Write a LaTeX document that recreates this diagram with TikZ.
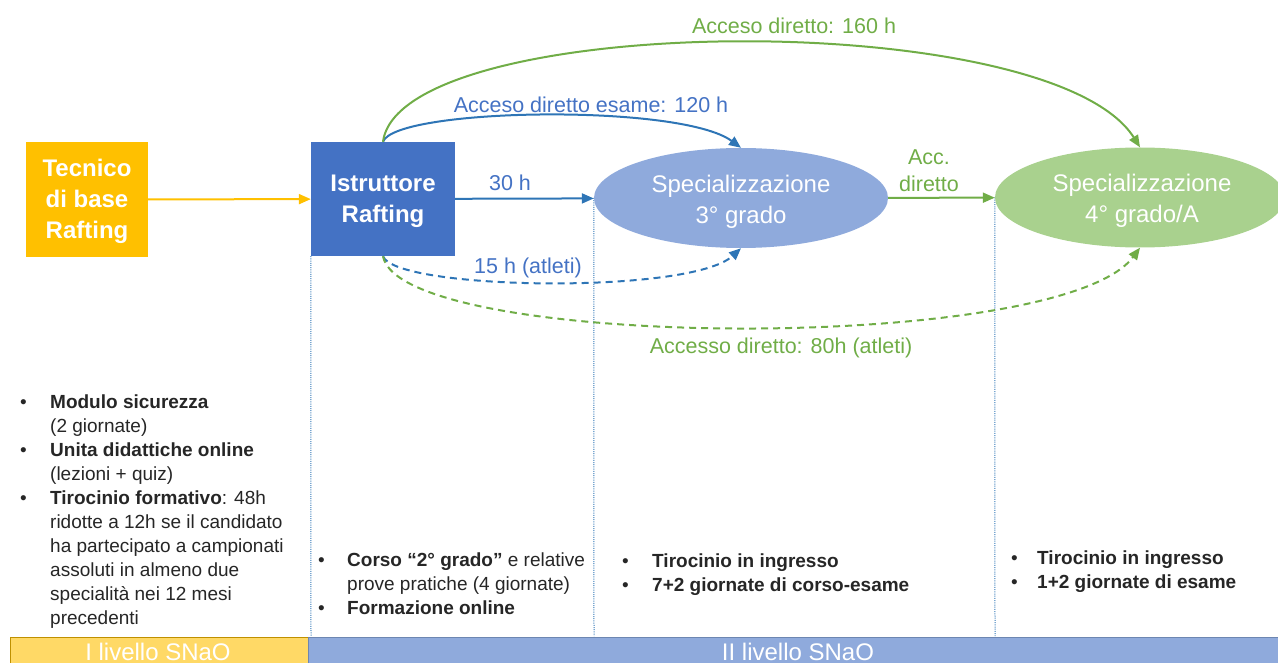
\documentclass[tikz,border=0pt]{standalone}
\usepackage{fontspec}
\setmainfont{Liberation Sans}
\usetikzlibrary{arrows.meta,shapes.geometric,backgrounds}
\definecolor{yelbox}{HTML}{FFC000}
\definecolor{bluebox}{HTML}{4472C4}
\definecolor{ellblue}{HTML}{8FAADC}
\definecolor{ellgreen}{HTML}{A9D18E}
\definecolor{arrblue}{HTML}{2E75B6}
\definecolor{arrgreen}{HTML}{70AD47}
\definecolor{lblblue}{HTML}{4472C4}
\definecolor{baryel}{HTML}{FFD966}
\definecolor{baryelborder}{HTML}{BF9000}
\definecolor{barblue}{HTML}{8FAADC}
\definecolor{barblueborder}{HTML}{2F528F}
\definecolor{txt}{HTML}{262626}
\tikzset{
  boxshape/.style={inner sep=0pt},
  boxtext/.style={inner sep=0pt, align=center, text=white,
    font=\fontsize{24}{31}\selectfont\bfseries},
  ellshape/.style={ellipse, inner sep=0pt, minimum width=294pt, minimum height=100pt},
  elltext/.style={inner sep=0pt, align=center, text=white,
    font=\fontsize{24}{31}\selectfont},
  conn/.style={line width=2pt, -{Triangle[length=12pt,width=10pt]}},
  dashconn/.style={conn, dash pattern=on 7pt off 5pt},
  arrlabel/.style={inner sep=0pt, align=center, font=\fontsize{21.5}{27}\selectfont},
  vdot/.style={draw=arrblue, line width=1pt, dash pattern=on 1pt off 1.2pt},
  bullets/.style={inner sep=0pt, anchor=base west, text=txt,
    font=\fontsize{19}{24.1}\selectfont},
  barlabel/.style={inner sep=0pt, anchor=base, text=white, font=\fontsize{24}{28}\selectfont},
}
\begin{document}
\begin{tikzpicture}[x=1pt,y=-1pt]
\useasboundingbox (0,0) rectangle (1278,663);
\clip (0,0) rectangle (1278,663);

% main nodes
\node[boxshape, fill=yelbox, minimum width=122pt, minimum height=115pt] (tec) at (87,199.5) {};
\node[boxtext] (tect) at ([yshift=-2pt]tec.center) {Tecnico\\di base\\Rafting};
\node[boxshape, fill=bluebox, minimum width=144pt, minimum height=114pt] (istr) at (383,199) {};
\node[boxtext] (istrt) at ([yshift=-2.5pt]istr.center) {Istruttore\\Rafting};
\node[ellshape, fill=ellblue] (s3) at (741,198) {};
\node[elltext] (s3t) at ([yshift=-4pt]s3.center) {Specializzazione\\3° grado};
\node[ellshape, fill=ellgreen, minimum width=290pt] (s4) at (1140,197.5) {};
\node[elltext] (s4t) at ([xshift=2pt,yshift=-3pt]s4.center) {Specializzazione\\4° grado/A};

% dotted separators
\coordinate (d1) at (311,636);
\coordinate (d2) at (594,636);
\coordinate (d3) at (995,636);
\begin{scope}[on background layer]
\draw[vdot] (istr.south west) -- (d1);
\draw[vdot] (s3.west) -- (d2);
\draw[vdot] (s4.west) -- (d3);
\end{scope}

% straight connectors
\draw[conn, yelbox] (tec) -- (istr);
\draw[conn, arrblue] (istr) -- (s3);
\draw[conn, arrgreen] (s3) -- (s4);

% curved connectors
\draw[conn, arrblue] (istr.north) .. controls (395,108) and (680,103) .. (s3.north);
\draw[conn, arrgreen] (istr.north) .. controls (400,12) and (1050,5) .. (s4.north);
\draw[dashconn, arrblue] (istr.south) .. controls (395,290) and (690,295) .. (s3.south);
\draw[dashconn, arrgreen] (istr.south) .. controls (400,350) and (1060,355) .. (s4.south);

% labels
\node[arrlabel, text=arrgreen] (l160) at (794,26) {Acceso diretto: 160 h};
\node[arrlabel, text=lblblue] (l120) at (591,105) {Acceso diretto esame: 120 h};
\node[arrlabel, text=lblblue] (l30) at (510,183) {30 h};
\node[arrlabel, text=arrgreen] (lacc) at (929,170.5) {Acc.\\diretto};
\node[arrlabel, text=lblblue] (l15) at (528,268) {15 h (atleti)};
\node[arrlabel, text=arrgreen] (l80) at (781,348) {Accesso diretto: 80h (atleti)};

% bullet columns
\node[bullets] (col1) at (20,408) {\begin{tabular}[t]{@{}p{30pt}@{}l@{}}
\textbullet & \textbf{Modulo sicurezza}\\
 & (2 giornate)\\
\textbullet & \textbf{Unita didattiche online}\\
 & (lezioni + quiz)\\
\textbullet & \textbf{Tirocinio formativo}: 48h\\
 & ridotte a 12h se il candidato\\
 & ha partecipato a campionati\\
 & assoluti in almeno due\\
 & specialità nei 12 mesi\\
 & precedenti
\end{tabular}};
\node[bullets] (col2) at (318,566) {\begin{tabular}[t]{@{}p{29pt}@{}l@{}}
\textbullet & \textbf{Corso “2° grado”} e relative\\
 & prove pratiche (4 giornate)\\
\textbullet & \textbf{Formazione online}
\end{tabular}};
\node[bullets] (col3) at (622,567) {\begin{tabular}[t]{@{}p{30pt}@{}l@{}}
\textbullet & \textbf{Tirocinio in ingresso}\\
\textbullet & \textbf{7+2 giornate di corso-esame}
\end{tabular}};
\node[bullets] (col4) at (1011,564) {\begin{tabular}[t]{@{}p{26pt}@{}l@{}}
\textbullet & \textbf{Tirocinio in ingresso}\\
\textbullet & \textbf{1+2 giornate di esame}
\end{tabular}};

% bottom bars
\node[draw=baryelborder, fill=baryel, line width=0.8pt, anchor=north west, inner sep=0pt,
  minimum width=298pt, minimum height=32pt] (bar1) at (10,636.5) {};
\node[draw=barblueborder!70, fill=barblue, line width=0.8pt, anchor=north west, inner sep=0pt,
  minimum width=975pt, minimum height=32pt] (bar2) at (308,636.5) {};
\node[barlabel] (bl1) at (158,660) {I livello SNaO};
\node[barlabel] (bl2) at (798,660) {II livello SNaO};
\end{tikzpicture}
\end{document}
